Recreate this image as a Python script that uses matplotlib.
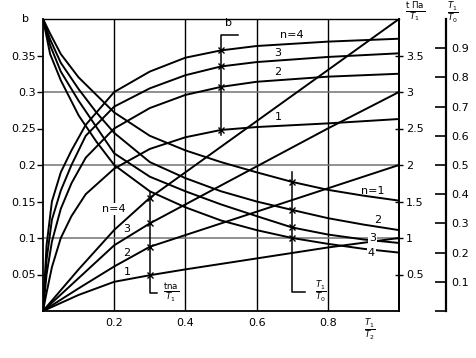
import numpy as np
import matplotlib.pyplot as plt

# x axis: T1/T2
# b curves (left scale), n = 1..4
x_b = [0, 0.01, 0.025, 0.05, 0.08, 0.12, 0.2, 0.3, 0.4, 0.5, 0.6, 0.8, 1.0]
b_n4 = [0, 0.09, 0.15, 0.19, 0.22, 0.255, 0.30, 0.328, 0.347, 0.357, 0.363, 0.369, 0.373]
b_n3 = [0, 0.07, 0.125, 0.165, 0.20, 0.24, 0.28, 0.305, 0.323, 0.335, 0.341, 0.348, 0.353]
b_n2 = [0, 0.05, 0.095, 0.14, 0.175, 0.21, 0.25, 0.278, 0.296, 0.307, 0.314, 0.321, 0.325]
b_n1 = [0, 0.025, 0.06, 0.10, 0.13, 0.16, 0.195, 0.222, 0.238, 0.248, 0.252, 0.257, 0.263]

# T1/T0 curves (far right scale)
x_t = [0, 0.02, 0.05, 0.1, 0.15, 0.2, 0.3, 0.4, 0.5, 0.6, 0.7, 0.8, 0.9, 1.0]
t_n1 = [1.0, 0.95, 0.88, 0.80, 0.74, 0.68, 0.60, 0.55, 0.51, 0.475, 0.442, 0.415, 0.395, 0.378]
t_n2 = [1.0, 0.93, 0.85, 0.76, 0.68, 0.61, 0.51, 0.455, 0.41, 0.375, 0.346, 0.318, 0.296, 0.277]
t_n3 = [1.0, 0.91, 0.82, 0.72, 0.63, 0.54, 0.46, 0.41, 0.365, 0.325, 0.286, 0.262, 0.245, 0.233]
t_n4 = [1.0, 0.88, 0.79, 0.67, 0.58, 0.50, 0.41, 0.355, 0.31, 0.277, 0.25, 0.23, 0.213, 0.20]

# t_na/T1 curves (right scale)
x_r = [0, 0.1, 0.2, 0.3, 0.4, 0.6, 0.8, 1.0]
r_n4 = [0, 0.57, 1.11, 1.55, 1.90, 2.60, 3.30, 4.0]
r_n3 = [0, 0.45, 0.90, 1.20, 1.46, 1.98, 2.50, 3.0]
r_n2 = [0, 0.31, 0.61, 0.88, 1.04, 1.36, 1.68, 2.0]
r_n1 = [0, 0.22, 0.40, 0.49, 0.57, 0.72, 0.87, 1.0]

b_ticks = [0.05, 0.1, 0.15, 0.2, 0.25, 0.3, 0.35]
b_labels = ['0.05', '0.1', '0.15', '0.2', '0.25', '0.3', '0.35']
r_ticks = [0.5, 1, 1.5, 2, 2.5, 3, 3.5]
r_labels = ['0.5', '1', '1.5', '2', '2.5', '3', '3.5']
t_ticks = [0, 0.1, 0.2, 0.3, 0.4, 0.5, 0.6, 0.7, 0.8, 0.9]
t_labels = ['', '0.1', '0.2', '0.3', '0.4', '0.5', '0.6', '0.7', '0.8', '0.9']
x_ticks = [0.2, 0.4, 0.6, 0.8]
x_labels = ['0.2', '0.4', '0.6', '0.8']

plt.rcParams['font.family'] = 'DejaVu Sans'
lw = 1.4

fig = plt.figure(figsize=(4.76, 3.58), dpi=100)
ax = fig.add_axes([43 / 476, 47 / 358, 356 / 476, 292 / 358])
ax.set_xlim(0, 1)
ax.set_ylim(0, 0.4)
ax2 = ax.twinx()
ax2.set_ylim(0, 4)
ax3 = ax.twinx()
ax3.set_ylim(0, 1)

# grid
for v in x_ticks:
    ax.axvline(v, color='k', lw=1.0, zorder=1)
for h in [0.1, 0.2, 0.3]:
    ax.axhline(h, color='0.45', lw=1.1, zorder=1)

for s in ax.spines.values():
    s.set_linewidth(1.3)
ax.spines['top'].set_linewidth(1.0)

ax.set_xticks(x_ticks)
ax.set_xticklabels(x_labels)
ax.set_yticks(b_ticks)
ax.set_yticklabels(b_labels)
ax.tick_params(axis='x', length=0, pad=5, labelsize=8)
ax.tick_params(axis='y', direction='out', length=4, width=1, pad=1, labelsize=8)

ax2.set_yticks(r_ticks)
ax2.set_yticklabels(r_labels)
ax2.tick_params(axis='y', direction='inout', length=6, width=1, pad=2, labelsize=8)
for k in ['top', 'bottom', 'left']:
    ax2.spines[k].set_visible(False)
ax2.spines['right'].set_linewidth(1.3)

ax3.set_yticks(t_ticks)
ax3.set_yticklabels(t_labels)
ax3.tick_params(axis='y', direction='in', length=8, width=1.2, pad=4, labelsize=8)
for k in ['top', 'bottom', 'left']:
    ax3.spines[k].set_visible(False)
ax3.spines['right'].set_position(('outward', 47 * 0.72))
ax3.spines['right'].set_linewidth(1.6)

# curves
for yb in [b_n1, b_n2, b_n3, b_n4]:
    ax.plot(x_b, yb, color='k', lw=lw, zorder=3)
for yt in [t_n1, t_n2, t_n3, t_n4]:
    ax3.plot(x_t, yt, color='k', lw=lw, zorder=3)
for yr in [r_n1, r_n2, r_n3, r_n4]:
    ax2.plot(x_r, yr, color='k', lw=lw, zorder=3)

# reading indicators
xb_ind = 0.5
ax.plot([xb_ind, xb_ind, 0.548], [0.241, 0.378, 0.378], color='k', lw=1.1)
for yb in [b_n1, b_n2, b_n3, b_n4]:
    ax.plot(xb_ind, np.interp(xb_ind, x_b, yb), marker='x', ms=4, mew=1, color='k')

xr_ind = 0.3
ax2.plot([xr_ind, xr_ind, 0.32], [1.63, 0.25, 0.25], color='k', lw=1.1)
for yr in [r_n1, r_n2, r_n3, r_n4]:
    ax2.plot(xr_ind, np.interp(xr_ind, x_r, yr), marker='x', ms=4, mew=1, color='k')

xt_ind = 0.7
ax3.plot([xt_ind, xt_ind, 0.736], [0.476, 0.065, 0.065], color='k', lw=1.1)
for yt in [t_n1, t_n2, t_n3, t_n4]:
    ax3.plot(xt_ind, np.interp(xt_ind, x_t, yt), marker='x', ms=4, mew=1, color='k')

box = dict(fc='white', ec='none', pad=0.6)
fs = 8
ffs = 9
# labels on b curves
ax3.text(0.52, 0.388, 'b', transform=ax.transData, fontsize=fs, ha='center', va='bottom')
ax3.text(0.7, 0.378, 'n=4', transform=ax.transData, fontsize=fs, ha='center', va='center')
ax3.text(0.66, 0.354, '3', transform=ax.transData, fontsize=fs, ha='center', va='center')
ax3.text(0.66, 0.327, '2', transform=ax.transData, fontsize=fs, ha='center', va='center')
ax3.text(0.66, 0.266, '1', transform=ax.transData, fontsize=fs, ha='center', va='center')
# labels on t_na curves
ax3.text(0.2, 1.40, 'n=4', transform=ax2.transData, fontsize=fs, ha='center', va='center', bbox=box)
ax3.text(0.236, 1.12, '3', transform=ax2.transData, fontsize=fs, ha='center', va='center')
ax3.text(0.236, 0.80, '2', transform=ax2.transData, fontsize=fs, ha='center', va='center')
ax3.text(0.236, 0.54, '1', transform=ax2.transData, fontsize=fs, ha='center', va='center')
ax3.text(0.36, 0.25, r'$\frac{\mathrm{tna}}{T_1}$', transform=ax2.transData, fontsize=ffs, ha='center', va='center')
# labels on T1/T0 curves
ax3.text(0.925, 0.41, 'n=1', fontsize=fs, ha='center', va='center')
ax3.text(0.94, 0.312, '2', fontsize=fs, ha='center', va='center')
ax3.text(0.925, 0.25, '3', fontsize=fs, ha='center', va='center', bbox=box)
ax3.text(0.922, 0.199, '4', fontsize=fs, ha='center', va='center', bbox=box)
ax3.text(0.78, 0.065, r'$\frac{T_1}{T_0}$', fontsize=ffs, ha='center', va='center')

# axis headers
ax3.text(-0.05, 1.0, 'b', transform=ax.transAxes, fontsize=fs, ha='center', va='center')
ax3.text(1.045, 1.022, r'$\frac{\mathrm{t\ \Pi a}}{T_1}$', transform=ax.transAxes, fontsize=ffs, ha='center', va='center')
ax3.text(1.15, 1.022, r'$\frac{T_1}{T_0}$', transform=ax.transAxes, fontsize=ffs, ha='center', va='center')
ax3.text(0.918, -0.065, r'$\frac{T_1}{T_2}$', transform=ax.transAxes, fontsize=ffs, ha='center', va='center')

plt.savefig('out.png', dpi=100)
